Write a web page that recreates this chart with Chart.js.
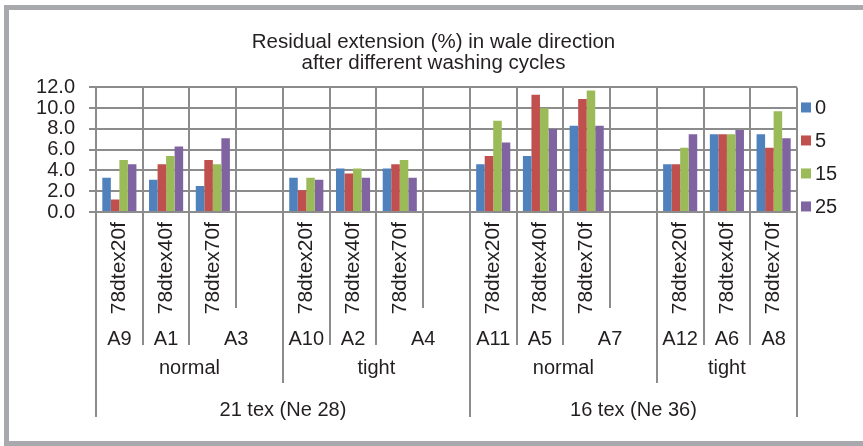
<!DOCTYPE html>
<html>
<head>
<meta charset="utf-8">
<script src="https://cdn.jsdelivr.net/npm/chart.js@4/dist/chart.umd.min.js"></script>
<style>
  html, body { margin: 0; padding: 0; background: #fff; overflow: hidden; }
  #frame {
    position: absolute; left: 4px; top: 5px; width: 870px; height: 441px;
    box-sizing: border-box; border: 5px solid #a8a9ad;
  }
  #chart { position: absolute; left: 0; top: 0; }
</style>
</head>
<body>
<div id="frame"></div>
<canvas id="chart" width="863" height="446"></canvas>
<script>
// Yarn types (empty entries keep a gap between the knit groups)
const yarnLabels = [
  '78dtex20f', '78dtex40f', '78dtex70f', '',
  '78dtex20f', '78dtex40f', '78dtex70f', '',
  '78dtex20f', '78dtex40f', '78dtex70f', '',
  '78dtex20f', '78dtex40f', '78dtex70f'
];

// Sample codes: [text, first category index, last category index]
const sampleCodes = [
  ['A9', 0, 0], ['A1', 1, 1], ['A3', 2, 3],
  ['A10', 4, 4], ['A2', 5, 5], ['A4', 6, 7],
  ['A11', 8, 8], ['A5', 9, 9], ['A7', 10, 11],
  ['A12', 12, 12], ['A6', 13, 13], ['A8', 14, 14]
];

// Knit structure
const structures = [
  ['normal', 0, 3], ['tight', 4, 7], ['normal', 8, 11], ['tight', 12, 14]
];

// Ground yarn count
const yarnCounts = [
  ['21 tex (Ne 28)', 0, 7], ['16 tex (Ne 36)', 8, 14]
];

// Washing cycles
const cycleNames = ['0', '5', '15', '25'];

// Residual extension (%) after each number of washing cycles
const ext0  = [3.3, 3.1, 2.5, null, 3.3, 4.2, 4.2, null, 4.6, 5.4, 8.3, null, 4.6, 7.5, 7.5];
const ext5  = [1.2, 4.6, 5.0, null, 2.1, 3.7, 4.6, null, 5.4, 11.3, 10.9, null, 4.6, 7.5, 6.2];
const ext15 = [5.0, 5.4, 4.6, null, 3.3, 4.2, 5.0, null, 8.8, 10.0, 11.7, null, 6.2, 7.5, 9.7];
const ext25 = [4.6, 6.3, 7.1, null, 3.1, 3.3, 3.3, null, 6.7, 8.0, 8.3, null, 7.5, 7.9, 7.1];

const seriesColors = ['#4f81bd', '#c0504d', '#9bbb59', '#8064a2'];

const FONT = '"Liberation Sans", Arial, Helvetica, sans-serif';
const TEXT = '#231f20';
const GRID = '#8c8c8c';

// Hierarchical category labels and separators below the x axis
const categoryTree = {
  id: 'categoryTree',
  afterDraw(chart) {
    const x = chart.scales.x;
    const ctx = chart.ctx;
    const n = yarnLabels.length;
    const w = (x.right - x.left) / n;
    const edge = i => x.left + i * w;
    const top = x.top;

    // how far each boundary line reaches down
    const depth = new Array(n + 1).fill(308);
    const reach = (items, d) => items.forEach(([, a, b]) => {
      depth[a] = Math.max(depth[a], d);
      depth[b + 1] = Math.max(depth[b + 1], d);
    });
    reach(sampleCodes, 345);
    reach(structures, 383);
    reach(yarnCounts, 417);

    ctx.save();
    ctx.strokeStyle = GRID;
    ctx.lineWidth = 2;
    for (let i = 0; i <= n; i++) {
      const px = Math.round(edge(i));
      ctx.beginPath();
      ctx.moveTo(px, top);
      ctx.lineTo(px, depth[i]);
      ctx.stroke();
    }

    ctx.fillStyle = TEXT;
    ctx.font = '20px ' + FONT;
    ctx.textAlign = 'center';
    ctx.textBaseline = 'middle';
    const row = (items, y) => items.forEach(([t, a, b]) => {
      ctx.fillText(t, (edge(a) + edge(b + 1)) / 2, y);
    });
    row(sampleCodes, 339);
    row(structures, 368);
    row(yarnCounts, 410);
    ctx.restore();
  }
};

// Legend column to the right of the plot
const sideLegend = {
  id: 'sideLegend',
  afterDraw(chart) {
    const ctx = chart.ctx;
    const area = chart.chartArea;
    ctx.save();
    ctx.font = '20px ' + FONT;
    ctx.textBaseline = 'middle';
    ctx.textAlign = 'left';
    chart.data.datasets.forEach((ds, i) => {
      const cy = area.top + 20 + i * 33;
      ctx.fillStyle = ds.backgroundColor;
      ctx.fillRect(area.right + 4, cy - 5, 10, 10);
      ctx.fillStyle = TEXT;
      ctx.fillText(ds.label, area.right + 18, cy + 1);
    });
    ctx.restore();
  }
};

const series = [ext0, ext5, ext15, ext25];

new Chart(document.getElementById('chart'), {
  type: 'bar',
  data: {
    labels: yarnLabels,
    datasets: series.map((values, i) => ({
      label: cycleNames[i],
      data: values,
      backgroundColor: seriesColors[i],
      borderWidth: 0,
      categoryPercentage: 0.73,
      barPercentage: 1.0
    }))
  },
  options: {
    responsive: false,
    animation: false,
    layout: { padding: { left: 4, right: 0, top: 0, bottom: 0 } },
    plugins: {
      legend: { display: false },
      tooltip: { enabled: false },
      title: {
        display: true,
        text: ['Residual extension (%) in wale direction', 'after different washing cycles'],
        color: TEXT,
        font: { family: FONT, size: 20.5, weight: 'normal', lineHeight: 1.06 },
        padding: { top: 31, bottom: 13 }
      }
    },
    scales: {
      x: {
        grid: { color: GRID, lineWidth: 2, drawTicks: false, offset: true },
        border: { color: GRID, width: 2 },
        ticks: {
          color: TEXT,
          font: { family: FONT, size: 21 },
          minRotation: 90,
          maxRotation: 90,
          autoSkip: false,
          padding: 10
        },
        afterFit(scale) { scale.height = 234; }
      },
      y: {
        min: 0,
        max: 12,
        grid: { color: GRID, lineWidth: 2, drawTicks: true, tickLength: 7 },
        border: { color: GRID, width: 2 },
        ticks: {
          stepSize: 2,
          autoSkip: false,
          color: TEXT,
          font: { family: FONT, size: 20 },
          padding: 14,
          callback: v => v.toFixed(1)
        },
        afterFit(scale) { scale.width = 92; }
      },
      // empty right-hand axis that reserves room for the legend column
      legendSpace: {
        type: 'linear',
        position: 'right',
        display: true,
        grid: { display: false, drawOnChartArea: false },
        border: { display: false },
        ticks: { display: false },
        afterFit(scale) { scale.width = 66; }
      }
    }
  },
  plugins: [categoryTree, sideLegend]
});
</script>
</body>
</html>
